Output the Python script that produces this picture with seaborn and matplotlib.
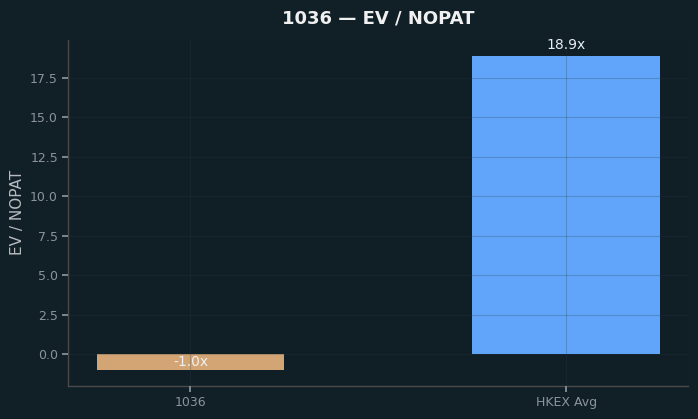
import matplotlib
matplotlib.use("Agg")
import matplotlib.pyplot as plt
import seaborn as sns
import pandas as pd

categories = ["1036", "HKEX Avg"]
values = [-1.0, 18.9]
colors = ["#d4a574", "#60a5fa"]
labels = ["-1.0x", "18.9x"]

sns.set_theme(style="dark")
plt.rcParams["font.family"] = ["DejaVu Sans"]

fig_bg = "#111f27"
ax_bg = "#101f26"

fig, ax = plt.subplots(figsize=(6.98, 4.19), dpi=100)
fig.patch.set_facecolor(fig_bg)
ax.set_facecolor(ax_bg)

df = pd.DataFrame({"cat": categories, "val": values})
sns.barplot(data=df, x="cat", y="val", hue="cat", palette=colors, width=0.5,
            legend=False, ax=ax, saturation=1, linewidth=0, edgecolor="none")
ax.set_xlim(-0.325, 1.325)

ax.set_axisbelow(False)
ax.grid(True, color="#2a3a44", alpha=0.25, linewidth=0.8)

for i, (v, lab) in enumerate(zip(values, labels)):
    if v >= 0:
        ax.text(i, v + 0.2, lab, ha="center", va="bottom", color="#e6edf3", fontsize=10)
    else:
        ax.text(i, v / 2, lab, ha="center", va="center", color="#f0f0f0", fontsize=10)

ax.set_title("1036 — EV / NOPAT", color="#f0f0f0", fontsize=13, fontweight="bold", pad=12)
ax.set_xlabel("")
ax.set_ylabel("EV / NOPAT", color="#b8bcc0", fontsize=11)
ax.tick_params(colors="#8b949e", labelsize=9, length=4, color="#8b949e", left=True, bottom=True)
for s in ["top", "right"]:
    ax.spines[s].set_visible(False)
for s in ["left", "bottom"]:
    ax.spines[s].set_color("#4a4a48")
    ax.spines[s].set_linewidth(1)

fig.subplots_adjust(left=0.098, right=0.986, top=0.905, bottom=0.079)
fig.savefig("out.png", dpi=100, facecolor=fig_bg)
